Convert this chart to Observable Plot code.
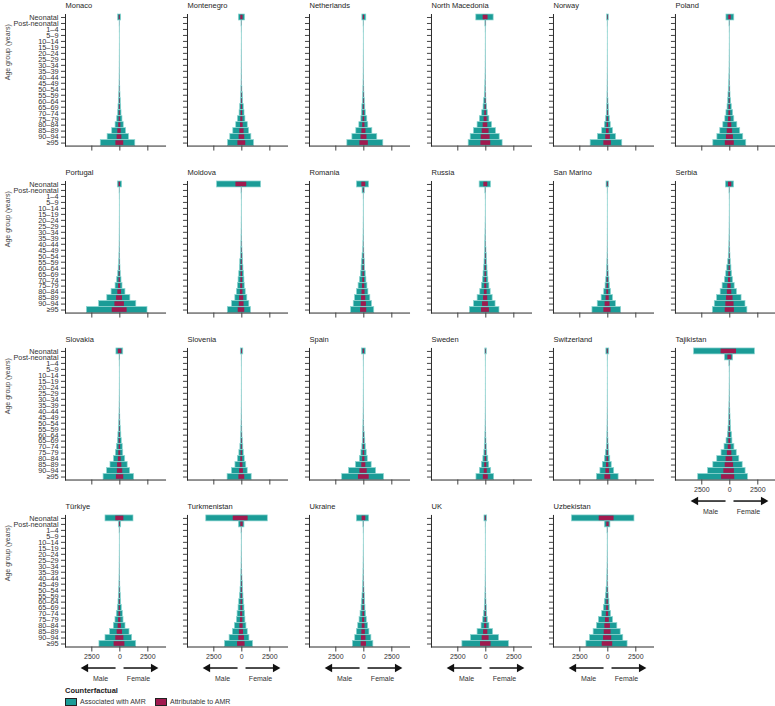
<!DOCTYPE html>
<html>
<head>
<meta charset="utf-8">
<script src="https://cdn.jsdelivr.net/npm/d3@7"></script>
<script src="https://cdn.jsdelivr.net/npm/@observablehq/plot@0.6"></script>
<style>
  body { margin: 0; background: #fff; font-family: "Liberation Sans", Arial, sans-serif; }
  #wrap { position: relative; width: 775px; height: 706px; }
  #legend { position: absolute; left: 65px; top: 686px; font-size: 7px; color: #333; }
  #legend .title { font-size: 7.5px; font-weight: 600; color: #222; line-height: 10px; height: 11px; }
  #legend .row { display: flex; align-items: center; height: 9px; }
  #legend .sw { width: 10px; height: 6px; border: 0.8px solid #222; margin-right: 3px; }
  #legend .item { display: flex; align-items: center; width: 90px; }
</style>
</head>
<body>
<div id="wrap"></div>
<script>
// ---------- data ----------
const ageGroups = ["Neonatal", "Post-neonatal", "1–4", "5–9", "10–14", "15–19", "20–24", "25–29", "30–34", "35–39",
  "40–44", "45–49", "50–54", "55–59", "60–64", "65–69", "70–74", "75–79", "80–84", "85–89", "90–94", "≥95"];

const countries = ["Monaco", "Montenegro", "Netherlands", "North Macedonia", "Norway", "Poland",
  "Portugal", "Moldova", "Romania", "Russia", "San Marino", "Serbia",
  "Slovakia", "Slovenia", "Spain", "Sweden", "Switzerland", "Tajikistan",
  "Türkiye", "Turkmenistan", "Ukraine", "UK", "Uzbekistan"];

const xTicks = [-2500, 0, 2500];
const sexLabels = ["Male", "Female"];
const legendLabels = ["Associated with AMR", "Attributable to AMR"];

// Deaths associated with AMR, males (one row per country, one value per age group)
const associatedMale = [
  [150, 15, 8, 4, 4, 6, 8, 10, 12, 15, 20, 28, 40, 60, 90, 120, 150, 235, 380, 680, 1090, 1700],
  [265, 30, 10, 5, 5, 8, 10, 12, 14, 16, 20, 28, 40, 60, 90, 150, 200, 350, 500, 760, 1030, 1235],
  [130, 20, 8, 4, 4, 6, 8, 10, 12, 15, 20, 28, 40, 60, 90, 130, 170, 220, 400, 670, 1020, 1470],
  [850, 40, 12, 6, 6, 8, 10, 12, 15, 20, 28, 40, 60, 90, 150, 200, 320, 530, 735, 1060, 1350, 1530],
  [60, 10, 5, 3, 3, 4, 5, 6, 8, 10, 13, 17, 22, 30, 40, 60, 90, 150, 265, 500, 880, 1530],
  [300, 30, 10, 5, 5, 8, 12, 15, 20, 28, 40, 60, 90, 120, 150, 200, 300, 400, 580, 850, 1110, 1470],
  [180, 20, 8, 4, 4, 6, 8, 10, 12, 15, 20, 28, 40, 60, 100, 150, 240, 380, 735, 1120, 1850, 2940],
  [2210, 30, 10, 5, 5, 8, 12, 16, 22, 30, 40, 60, 90, 145, 175, 230, 290, 350, 440, 580, 870, 1250],
  [610, 115, 15, 6, 6, 8, 12, 16, 22, 30, 40, 60, 115, 175, 200, 260, 350, 465, 610, 785, 900, 1135],
  [550, 40, 12, 5, 5, 8, 14, 22, 30, 40, 50, 60, 90, 115, 145, 200, 260, 350, 495, 730, 1050, 1425],
  [115, 10, 5, 3, 3, 4, 5, 6, 8, 10, 13, 17, 25, 40, 60, 90, 145, 200, 320, 550, 900, 1370],
  [350, 30, 10, 5, 5, 8, 12, 16, 22, 30, 40, 60, 90, 145, 230, 320, 435, 640, 815, 1135, 1340, 1510],
  [305, 25, 10, 5, 5, 6, 8, 10, 14, 20, 28, 40, 60, 90, 130, 175, 260, 350, 525, 835, 1140, 1450],
  [90, 10, 6, 3, 3, 4, 5, 6, 8, 10, 14, 20, 28, 40, 60, 90, 130, 220, 350, 570, 880, 1270],
  [175, 15, 6, 3, 3, 4, 6, 8, 10, 13, 18, 25, 35, 45, 60, 90, 130, 220, 350, 700, 1320, 1930],
  [45, 8, 4, 2, 2, 3, 4, 5, 6, 8, 10, 14, 20, 28, 40, 60, 90, 130, 220, 350, 525, 835],
  [130, 10, 5, 3, 3, 4, 5, 6, 8, 10, 13, 17, 22, 30, 40, 60, 90, 175, 260, 440, 660, 965],
  [3190, 430, 40, 12, 8, 10, 14, 18, 25, 35, 50, 70, 90, 120, 175, 290, 470, 735, 1120, 1470, 1940, 2820],
  [1280, 90, 20, 6, 5, 7, 10, 13, 17, 22, 30, 40, 60, 90, 120, 180, 270, 390, 535, 865, 1280, 1820],
  [3175, 265, 30, 10, 8, 10, 15, 20, 28, 40, 60, 90, 120, 175, 235, 290, 380, 440, 620, 795, 1090, 1500],
  [620, 40, 12, 5, 5, 8, 12, 18, 25, 32, 40, 60, 90, 120, 175, 205, 290, 380, 500, 620, 765, 970],
  [120, 12, 6, 3, 3, 4, 5, 6, 8, 10, 15, 20, 30, 40, 60, 90, 150, 235, 380, 735, 1320, 2090],
  [3200, 265, 30, 10, 8, 10, 14, 18, 25, 35, 45, 60, 120, 175, 265, 350, 500, 795, 970, 1265, 1590, 1910]
];

// Deaths associated with AMR, females
const associatedFemale = [
  [120, 12, 8, 4, 4, 5, 6, 8, 10, 13, 18, 25, 40, 60, 90, 120, 150, 235, 350, 560, 820, 1380],
  [290, 25, 9, 5, 5, 6, 8, 10, 12, 15, 20, 30, 50, 90, 120, 180, 240, 320, 530, 650, 850, 1090],
  [220, 18, 8, 4, 4, 5, 7, 9, 11, 14, 20, 28, 40, 60, 90, 130, 180, 310, 400, 760, 1200, 1740],
  [700, 40, 10, 5, 5, 6, 8, 10, 12, 15, 20, 25, 30, 40, 60, 120, 180, 320, 560, 910, 1240, 1500],
  [90, 10, 5, 3, 3, 4, 5, 6, 8, 10, 13, 17, 22, 30, 60, 90, 120, 180, 265, 470, 735, 1290],
  [400, 30, 10, 5, 5, 6, 8, 10, 12, 16, 22, 30, 45, 65, 120, 180, 300, 400, 670, 930, 1200, 1470],
  [200, 18, 8, 4, 4, 5, 6, 8, 10, 13, 18, 25, 30, 40, 60, 90, 150, 240, 500, 940, 1470, 2470],
  [1720, 30, 10, 5, 5, 6, 8, 10, 14, 20, 40, 60, 90, 115, 145, 200, 230, 260, 350, 490, 670, 815],
  [465, 90, 12, 5, 5, 6, 8, 10, 14, 20, 28, 40, 60, 90, 115, 175, 230, 320, 410, 580, 730, 930],
  [465, 30, 10, 5, 5, 6, 8, 12, 16, 22, 35, 60, 90, 115, 145, 175, 230, 320, 435, 610, 870, 1220],
  [115, 10, 5, 3, 3, 4, 5, 6, 8, 10, 13, 17, 25, 40, 60, 90, 145, 200, 290, 465, 730, 1190],
  [380, 30, 10, 5, 5, 6, 8, 10, 14, 20, 28, 40, 60, 90, 145, 200, 290, 435, 640, 1050, 1400, 1570],
  [305, 25, 10, 5, 5, 6, 8, 10, 14, 20, 28, 40, 60, 90, 130, 175, 260, 305, 480, 700, 920, 1270],
  [130, 10, 6, 3, 3, 4, 5, 6, 8, 10, 14, 20, 28, 40, 60, 90, 130, 175, 260, 395, 525, 880],
  [175, 15, 6, 3, 3, 4, 5, 6, 8, 10, 14, 20, 30, 45, 90, 130, 175, 260, 350, 700, 1100, 1800],
  [90, 8, 4, 2, 2, 3, 4, 5, 6, 8, 10, 14, 20, 28, 40, 60, 90, 130, 220, 305, 480, 745],
  [130, 10, 5, 3, 3, 4, 5, 6, 8, 10, 13, 17, 22, 30, 40, 60, 90, 130, 220, 350, 570, 965],
  [2240, 300, 35, 10, 8, 10, 12, 16, 22, 30, 45, 65, 90, 120, 200, 235, 410, 620, 850, 1150, 1410, 1620],
  [1220, 120, 20, 6, 5, 6, 8, 10, 14, 18, 25, 35, 60, 90, 120, 180, 270, 330, 505, 865, 1100, 1460],
  [2320, 235, 30, 10, 8, 10, 14, 18, 25, 35, 60, 90, 120, 145, 175, 235, 290, 320, 410, 530, 680, 1000],
  [470, 30, 10, 5, 5, 6, 8, 10, 14, 20, 28, 40, 60, 90, 120, 145, 205, 265, 380, 500, 675, 850],
  [120, 10, 6, 3, 3, 4, 5, 6, 8, 10, 15, 20, 30, 40, 60, 90, 120, 175, 325, 650, 1180, 2060],
  [2380, 235, 28, 10, 8, 10, 12, 16, 22, 28, 35, 40, 60, 90, 145, 175, 290, 470, 850, 1150, 1380, 1765]
];

// Deaths attributable to AMR, males
const attributableMale = [
  [50, 5, 2, 1, 1, 2, 2, 3, 3, 4, 5, 8, 12, 18, 25, 35, 40, 60, 100, 180, 240, 350],
  [90, 8, 3, 1, 1, 2, 3, 3, 4, 5, 6, 8, 12, 18, 25, 40, 55, 90, 120, 180, 240, 350],
  [40, 5, 2, 1, 1, 2, 2, 3, 3, 4, 5, 8, 12, 18, 25, 35, 45, 60, 100, 170, 250, 350],
  [235, 12, 3, 2, 2, 2, 3, 3, 4, 5, 7, 10, 15, 25, 40, 55, 90, 150, 235, 320, 410, 440],
  [20, 3, 1, 1, 1, 1, 1, 2, 2, 3, 4, 5, 6, 8, 10, 15, 25, 40, 70, 120, 180, 350],
  [90, 8, 3, 1, 1, 2, 3, 4, 5, 7, 10, 15, 25, 35, 40, 55, 80, 110, 160, 230, 300, 400],
  [60, 5, 2, 1, 1, 2, 2, 3, 3, 4, 5, 8, 12, 18, 30, 45, 70, 110, 180, 290, 440, 680],
  [525, 8, 3, 1, 1, 2, 3, 4, 6, 8, 12, 18, 25, 40, 50, 65, 80, 100, 130, 200, 230, 320],
  [175, 30, 4, 2, 2, 2, 3, 4, 6, 8, 12, 18, 30, 45, 55, 70, 90, 120, 160, 200, 230, 290],
  [175, 10, 3, 1, 1, 2, 4, 6, 8, 10, 13, 16, 25, 30, 40, 55, 70, 95, 130, 200, 290, 380],
  [35, 3, 1, 1, 1, 1, 1, 2, 2, 3, 4, 5, 7, 10, 15, 25, 40, 55, 85, 150, 240, 350],
  [115, 8, 3, 1, 1, 2, 3, 4, 6, 8, 12, 18, 25, 40, 60, 85, 115, 170, 220, 290, 350, 410],
  [130, 7, 3, 1, 1, 2, 2, 3, 4, 5, 8, 12, 18, 25, 35, 45, 65, 90, 130, 200, 220, 305],
  [30, 3, 2, 1, 1, 1, 1, 2, 2, 3, 4, 5, 8, 10, 15, 25, 35, 55, 90, 140, 200, 260],
  [55, 4, 2, 1, 1, 1, 2, 2, 3, 4, 5, 7, 10, 12, 18, 25, 35, 60, 100, 180, 350, 480],
  [15, 2, 1, 1, 1, 1, 1, 1, 2, 2, 3, 4, 5, 7, 10, 15, 25, 35, 60, 95, 140, 220],
  [40, 3, 1, 1, 1, 1, 1, 2, 2, 3, 4, 5, 6, 8, 10, 15, 25, 45, 70, 115, 170, 260],
  [775, 170, 12, 3, 2, 3, 4, 5, 7, 10, 14, 20, 25, 35, 50, 85, 140, 220, 330, 410, 530, 735],
  [360, 30, 6, 2, 1, 2, 3, 4, 5, 6, 8, 12, 18, 25, 35, 50, 75, 110, 150, 240, 360, 510],
  [765, 90, 9, 3, 2, 3, 4, 6, 8, 12, 18, 25, 35, 50, 65, 80, 105, 125, 175, 220, 265, 380],
  [150, 10, 3, 1, 1, 2, 3, 5, 7, 9, 12, 17, 25, 35, 50, 60, 80, 105, 140, 175, 210, 235],
  [40, 3, 2, 1, 1, 1, 1, 2, 2, 3, 4, 5, 8, 10, 15, 25, 40, 65, 105, 200, 325, 470],
  [765, 90, 9, 3, 2, 3, 4, 5, 7, 10, 12, 16, 30, 45, 70, 95, 130, 210, 260, 320, 380, 500]
];

// Deaths attributable to AMR, females
const attributableFemale = [
  [40, 4, 2, 1, 1, 2, 2, 2, 3, 4, 5, 7, 12, 18, 25, 35, 40, 50, 90, 120, 180, 350],
  [110, 7, 3, 1, 1, 2, 2, 3, 3, 4, 6, 9, 15, 25, 35, 50, 65, 90, 120, 200, 260, 350],
  [60, 5, 2, 1, 1, 1, 2, 2, 3, 4, 5, 8, 12, 18, 25, 35, 45, 80, 100, 190, 280, 400],
  [200, 12, 3, 1, 1, 2, 2, 3, 3, 4, 5, 7, 8, 12, 18, 35, 50, 120, 180, 290, 380, 440],
  [30, 3, 1, 1, 1, 1, 1, 2, 2, 3, 4, 5, 6, 8, 15, 25, 30, 50, 70, 120, 230, 320],
  [130, 8, 3, 1, 1, 2, 2, 3, 3, 4, 6, 8, 12, 18, 30, 50, 80, 110, 180, 250, 320, 400],
  [60, 5, 2, 1, 1, 1, 2, 2, 3, 4, 5, 7, 8, 12, 18, 25, 45, 70, 150, 240, 410, 650],
  [440, 8, 3, 1, 1, 2, 2, 3, 4, 5, 10, 15, 25, 30, 40, 55, 65, 75, 100, 170, 200, 260],
  [175, 25, 3, 1, 1, 2, 2, 3, 4, 5, 7, 10, 15, 25, 30, 45, 60, 85, 110, 175, 230, 260],
  [175, 8, 3, 1, 1, 2, 2, 3, 4, 6, 9, 16, 25, 30, 40, 45, 60, 85, 115, 170, 230, 320],
  [35, 3, 1, 1, 1, 1, 1, 2, 2, 3, 4, 5, 7, 10, 15, 25, 40, 55, 80, 125, 200, 290],
  [175, 8, 3, 1, 1, 2, 2, 3, 4, 5, 8, 12, 18, 25, 40, 55, 80, 120, 175, 290, 380, 410],
  [175, 7, 3, 1, 1, 2, 2, 3, 4, 5, 8, 12, 18, 25, 35, 45, 65, 80, 120, 180, 260, 350],
  [45, 3, 2, 1, 1, 1, 1, 2, 2, 3, 4, 5, 8, 10, 15, 25, 35, 45, 65, 100, 140, 260],
  [55, 4, 2, 1, 1, 1, 1, 2, 2, 3, 4, 5, 8, 12, 25, 35, 45, 70, 100, 180, 300, 480],
  [30, 2, 1, 1, 1, 1, 1, 1, 2, 2, 3, 4, 5, 7, 10, 15, 25, 35, 60, 85, 130, 220],
  [40, 3, 1, 1, 1, 1, 1, 2, 2, 3, 4, 5, 6, 8, 10, 15, 25, 35, 60, 95, 150, 260],
  [600, 170, 10, 3, 2, 3, 4, 5, 6, 9, 13, 18, 25, 35, 55, 70, 120, 180, 260, 340, 410, 440],
  [360, 35, 6, 2, 1, 2, 2, 3, 4, 5, 7, 10, 18, 25, 35, 50, 75, 95, 140, 240, 360, 450],
  [560, 120, 9, 3, 2, 3, 4, 5, 7, 10, 18, 25, 35, 40, 50, 65, 80, 90, 115, 150, 235, 290],
  [175, 8, 3, 1, 1, 2, 2, 3, 4, 6, 8, 12, 17, 25, 35, 40, 60, 75, 105, 140, 190, 235],
  [40, 3, 2, 1, 1, 1, 1, 2, 2, 3, 4, 5, 8, 10, 15, 25, 35, 50, 90, 180, 290, 470],
  [560, 120, 8, 3, 2, 3, 3, 4, 6, 8, 10, 12, 16, 25, 40, 50, 80, 130, 230, 290, 350, 440]
];

// ---------- build ----------
const TEAL = "#1b9c97";
const TEAL_EDGE = "#8ed6d2";
const CRIMSON = "#a01a4f";
const INK = "#2a2a2a";
const FONT = "'Liberation Sans', Arial, sans-serif";

const NCOL = 6;
const cells = countries.map((c, i) => ({country: c, col: i % NCOL, row: Math.floor(i / NCOL)}));
const bottomCells = cells.filter(d => !cells.some(e => e.col === d.col && e.row === d.row + 1));
const leftCells = cells.filter(d => d.col === 0);

const rows = countries.flatMap((c, i) => ageGroups.map((age, j) => ({
  country: c, col: i % NCOL, row: Math.floor(i / NCOL), age,
  am: associatedMale[i][j], af: associatedFemale[i][j],
  bm: attributableMale[i][j], bf: attributableFemale[i][j]
})));

const H = 684;
const facetBottom = 646.5;
const lastAge = ageGroups[ageGroups.length - 1];

const chart = Plot.plot({
  width: 775,
  height: H,
  marginTop: 14,
  marginLeft: 65,
  marginRight: 0,
  marginBottom: H - facetBottom,
  facet: {marginTop: 0, marginRight: 0, marginBottom: 0, marginLeft: 0},
  fx: {domain: d3.range(NCOL), axis: null, paddingInner: 0.18, paddingOuter: 0, round: false},
  fy: {domain: d3.range(Math.ceil(countries.length / NCOL)), axis: null, paddingInner: 0.212, paddingOuter: 0, round: false},
  x: {domain: [-4850, 4080], label: null},
  y: {domain: ageGroups, paddingInner: 0, paddingOuter: 0, round: false, label: null},
  style: {fontFamily: FONT, fontSize: "7px", color: INK, background: "transparent", overflow: "visible"},
  marks: [
    Plot.barX(rows, {fx: "col", fy: "row", y: "age", x1: d => -d.am, x2: "af",
      fill: TEAL, stroke: TEAL_EDGE, strokeWidth: 0.7}),
    Plot.barX(rows, {fx: "col", fy: "row", y: "age", x1: d => -d.bm, x2: "bf",
      fill: CRIMSON, insetTop: 0.7, insetBottom: 0.7}),
    Plot.frame({anchor: "left", stroke: INK, strokeWidth: 1}),
    Plot.frame({anchor: "bottom", stroke: INK, strokeWidth: 1}),
    Plot.axisY({facetAnchor: null, tickSize: 4, tickFormat: () => "", stroke: "#444", label: null}),
    Plot.axisY({facetAnchor: "left", tickSize: 0, tickPadding: 7, fontSize: 7.3, fill: "#333", label: null}),
    Plot.axisX({ticks: xTicks, facetAnchor: null, tickSize: 5, tickFormat: () => "", stroke: "#444", label: null}),
    Plot.axisX({ticks: xTicks, facetAnchor: "bottom-empty", tickSize: 0, tickPadding: 7, fontSize: 7,
      tickFormat: d => String(Math.abs(d)), fill: "#333", label: null}),
    Plot.text(cells, {fx: "col", fy: "row", text: "country", frameAnchor: "top-left",
      textAnchor: "start", lineAnchor: "middle", dy: -9, fontSize: 7.5, fill: "#1e1e1e"}),
    Plot.text(leftCells, {fx: "col", fy: "row", text: () => "Age group (years)", frameAnchor: "left",
      rotate: -90, dx: -58, fontSize: 7, fill: "#444"}),
    // direction arrows
    Plot.link(bottomCells, {fx: "col", fy: "row", x1: () => -380, x2: () => -3000,
      y1: () => lastAge, y2: () => lastAge, dy: 24, stroke: "#111", strokeWidth: 1.5}),
    Plot.link(bottomCells, {fx: "col", fy: "row", x1: () => 330, x2: () => 2950,
      y1: () => lastAge, y2: () => lastAge, dy: 24, stroke: "#111", strokeWidth: 1.5}),
    Plot.dot(bottomCells, {fx: "col", fy: "row", x: () => -3050, y: () => lastAge, dy: 24,
      symbol: "triangle", r: 3.2, rotate: -90, fill: "#111", stroke: "none"}),
    Plot.dot(bottomCells, {fx: "col", fy: "row", x: () => 3000, y: () => lastAge, dy: 24,
      symbol: "triangle", r: 3.2, rotate: 90, fill: "#111", stroke: "none"}),
    Plot.text(bottomCells, {fx: "col", fy: "row", x: () => -1720, y: () => lastAge, dy: 35,
      text: () => sexLabels[0], fontSize: 7, fill: "#333"}),
    Plot.text(bottomCells, {fx: "col", fy: "row", x: () => 1670, y: () => lastAge, dy: 35,
      text: () => sexLabels[1], fontSize: 7, fill: "#333"})
  ]
});

const wrap = document.getElementById("wrap");
wrap.appendChild(chart);

// legend
const legend = document.createElement("div");
legend.id = "legend";
legend.innerHTML = `<div class="title">Counterfactual</div>
<div class="row">
  <div class="item"><div class="sw" style="background:${TEAL}"></div><span>${legendLabels[0]}</span></div>
  <div class="item"><div class="sw" style="background:${CRIMSON}"></div><span>${legendLabels[1]}</span></div>
</div>`;
wrap.appendChild(legend);
</script>
</body>
</html>
